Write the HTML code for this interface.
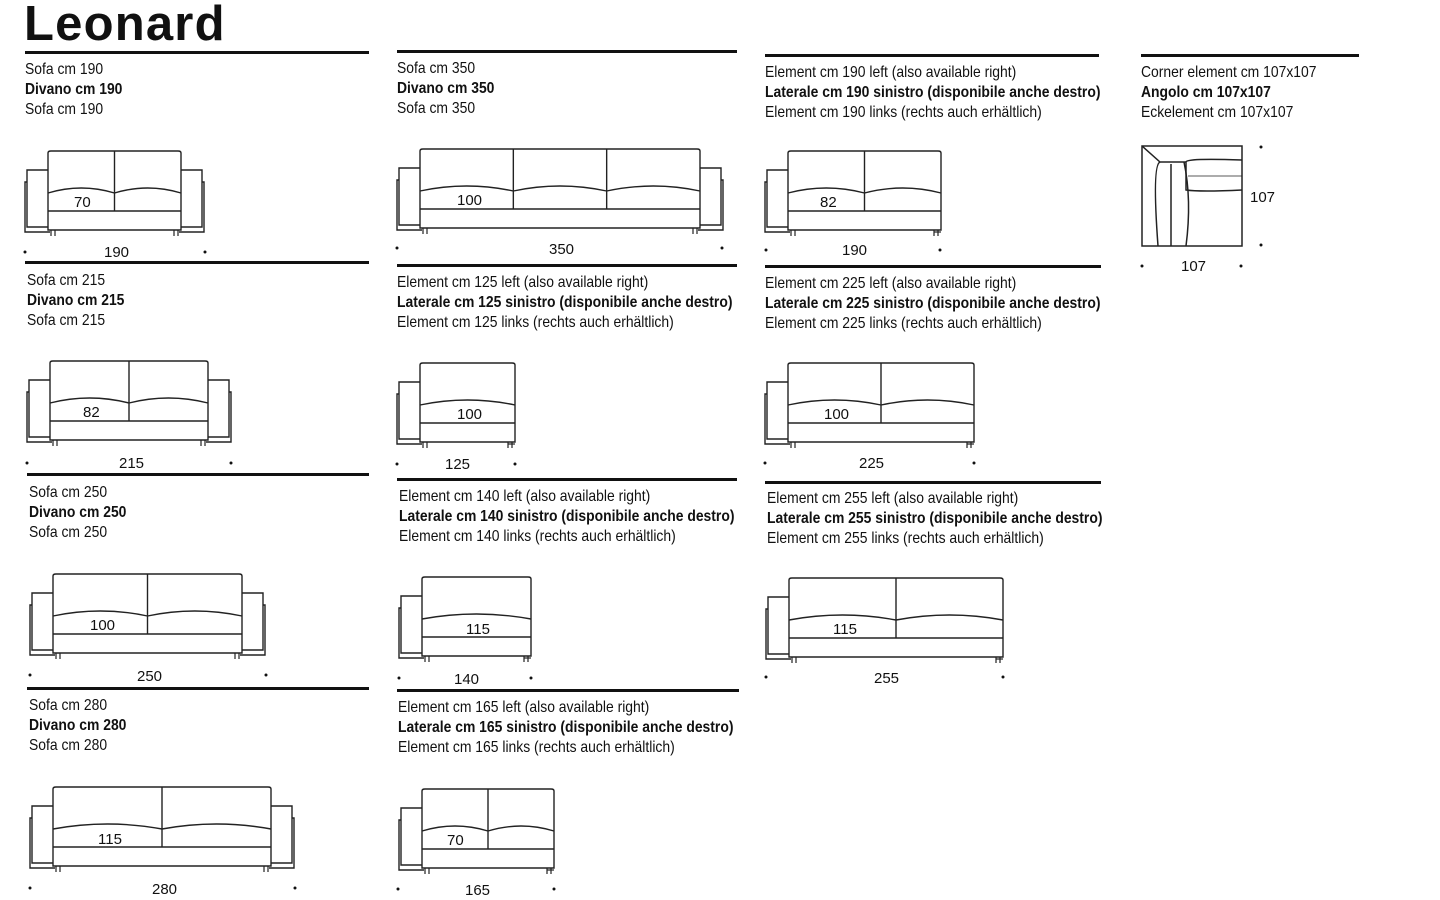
<!DOCTYPE html>
<html><head><meta charset="utf-8"><style>
html,body{margin:0;padding:0;background:#fff;width:1440px;height:900px;overflow:hidden}
svg{display:block}
text{font-family:"Liberation Sans Narrow","Liberation Sans",sans-serif;fill:#111}
.t{font-size:16px}
.b{font-weight:bold}
.d{font-size:15px}
</style></head><body>
<svg id="s" width="1440" height="900" viewBox="0 0 1440 900">
<text x="24" y="40" style="font-family:'Liberation Sans',sans-serif;font-size:49px;font-weight:bold;letter-spacing:1.2px">Leonard</text>
<g fill="#111">
<rect x="25" y="51" width="344" height="3"/>
<rect x="397" y="50" width="340" height="3"/>
<rect x="765" y="54" width="334" height="3"/>
<rect x="1141" y="54" width="218" height="3"/>
<rect x="25" y="261" width="344" height="3"/>
<rect x="397" y="264" width="340" height="3"/>
<rect x="765" y="265" width="336" height="3"/>
<rect x="27" y="473" width="342" height="3"/>
<rect x="397" y="478" width="340" height="3"/>
<rect x="765" y="481" width="336" height="3"/>
<rect x="27" y="687" width="342" height="3"/>
<rect x="397" y="689" width="342" height="3"/>
</g>
<g transform="translate(25,74) scale(0.87,1)" class="t"><text>Sofa cm 190</text><text y="20" class="b">Divano cm 190</text><text y="40">Sofa cm 190</text></g>
<g transform="translate(397,73) scale(0.87,1)" class="t"><text>Sofa cm 350</text><text y="20" class="b">Divano cm 350</text><text y="40">Sofa cm 350</text></g>
<g transform="translate(765,77) scale(0.87,1)" class="t"><text>Element cm 190 left (also available right)</text><text y="20" class="b">Laterale cm 190 sinistro (disponibile anche destro)</text><text y="40">Element cm 190 links (rechts auch erhältlich)</text></g>
<g transform="translate(1141,77) scale(0.87,1)" class="t"><text>Corner element cm 107x107</text><text y="20" class="b">Angolo cm 107x107</text><text y="40">Eckelement cm 107x107</text></g>
<g transform="translate(27,285) scale(0.87,1)" class="t"><text>Sofa cm 215</text><text y="20" class="b">Divano cm 215</text><text y="40">Sofa cm 215</text></g>
<g transform="translate(397,287) scale(0.87,1)" class="t"><text>Element cm 125 left (also available right)</text><text y="20" class="b">Laterale cm 125 sinistro (disponibile anche destro)</text><text y="40">Element cm 125 links (rechts auch erhältlich)</text></g>
<g transform="translate(765,288) scale(0.87,1)" class="t"><text>Element cm 225 left (also available right)</text><text y="20" class="b">Laterale cm 225 sinistro (disponibile anche destro)</text><text y="40">Element cm 225 links (rechts auch erhältlich)</text></g>
<g transform="translate(29,497) scale(0.87,1)" class="t"><text>Sofa cm 250</text><text y="20" class="b">Divano cm 250</text><text y="40">Sofa cm 250</text></g>
<g transform="translate(399,501) scale(0.87,1)" class="t"><text>Element cm 140 left (also available right)</text><text y="20" class="b">Laterale cm 140 sinistro (disponibile anche destro)</text><text y="40">Element cm 140 links (rechts auch erhältlich)</text></g>
<g transform="translate(767,503) scale(0.87,1)" class="t"><text>Element cm 255 left (also available right)</text><text y="20" class="b">Laterale cm 255 sinistro (disponibile anche destro)</text><text y="40">Element cm 255 links (rechts auch erhältlich)</text></g>
<g transform="translate(29,710) scale(0.87,1)" class="t"><text>Sofa cm 280</text><text y="20" class="b">Divano cm 280</text><text y="40">Sofa cm 280</text></g>
<g transform="translate(398,712) scale(0.87,1)" class="t"><text>Element cm 165 left (also available right)</text><text y="20" class="b">Laterale cm 165 sinistro (disponibile anche destro)</text><text y="40">Element cm 165 links (rechts auch erhältlich)</text></g>
<g fill="none" stroke="#222" stroke-width="1.5">
<rect x="1142" y="146" width="100" height="100"/>
<path d="M1142 146 L1160 162 L1186 162"/>
<path d="M1160 162 Q1152 165 1158 246 M1184 162 Q1192 200 1186 246 M1171 164 L1171 246"/>
<path d="M1186 162 Q1186 158 1242 160 M1186 162 L1186 190 Q1200 192 1242 190"/>
<path d="M1188 176 L1242 176" stroke-width="0.7"/>
</g>
<g class="d"><text x="1250" y="202">107</text><text x="1181" y="271">107</text></g>
<g fill="#111"><circle cx="1261" cy="147" r="1.5"/><circle cx="1261" cy="245" r="1.5"/><circle cx="1142" cy="266" r="1.5"/><circle cx="1241" cy="266" r="1.5"/></g>
<g id="sofas" fill="none" stroke="#222" stroke-width="1.4"></g>
<g class="d">
<text x="74" y="207">70</text><text x="104" y="257">190</text>
<text x="457" y="205">100</text><text x="549" y="254">350</text>
<text x="820" y="207">82</text><text x="842" y="255">190</text>
<text x="83" y="417">82</text><text x="119" y="468">215</text>
<text x="457" y="419">100</text><text x="445" y="469">125</text>
<text x="824" y="419">100</text><text x="859" y="468">225</text>
<text x="90" y="630">100</text><text x="137" y="681">250</text>
<text x="466" y="634">115</text><text x="454" y="684">140</text>
<text x="833" y="634">115</text><text x="874" y="683">255</text>
<text x="98" y="844">115</text><text x="152" y="894">280</text>
<text x="447" y="845">70</text><text x="465" y="895">165</text>
</g>
</svg>
<script>
var g=document.getElementById('sofas');var NS='http://www.w3.org/2000/svg';
function p(d,w){var e=document.createElementNS(NS,'path');e.setAttribute('d',d);if(w)e.setAttribute('stroke-width',w);g.appendChild(e);}
function dot(x,y){var c=document.createElementNS(NS,'circle');c.setAttribute('cx',x);c.setAttribute('cy',y);c.setAttribute('r',1.5);c.setAttribute('fill','#111');c.setAttribute('stroke','none');g.appendChild(c);}
function sofa(x1,x2,y,n,la,ra,dy,d1,d2){
 var w=x2-x1;
 p('M'+x1+' '+(y+60)+' L'+x1+' '+(y+2)+' Q'+x1+' '+y+' '+(x1+3)+' '+y+' L'+(x2-3)+' '+y+' Q'+x2+' '+y+' '+x2+' '+(y+2)+' L'+x2+' '+(y+79)+' L'+x1+' '+(y+79)+' Z');
 p('M'+x1+' '+(y+60)+' L'+x2+' '+(y+60));
 var cw=w/n;
 for(var i=0;i<n;i++){var a=x1+i*cw,b=a+cw;p('M'+a+' '+(y+42)+' Q'+(a+cw/2)+' '+(y+32)+' '+b+' '+(y+42));if(i>0)p('M'+a+' '+y+' L'+a+' '+(y+60));}
 p('M'+(x1+3)+' '+(y+79)+' L'+(x1+3)+' '+(y+85)+' M'+(x1+7)+' '+(y+79)+' L'+(x1+7)+' '+(y+85),1.2);
 p('M'+(x2-3)+' '+(y+79)+' L'+(x2-3)+' '+(y+85)+' M'+(x2-7)+' '+(y+79)+' L'+(x2-7)+' '+(y+85),1.2);
 if(la){p('M'+x1+' '+(y+19)+' L'+(x1-21)+' '+(y+19)+' L'+(x1-21)+' '+(y+76)+' L'+x1+' '+(y+76));p('M'+(x1-21)+' '+(y+31)+' L'+(x1-23)+' '+(y+31)+' L'+(x1-23)+' '+(y+81)+' L'+(x1+2)+' '+(y+81));}
 if(ra){p('M'+x2+' '+(y+19)+' L'+(x2+21)+' '+(y+19)+' L'+(x2+21)+' '+(y+76)+' L'+x2+' '+(y+76));p('M'+(x2+21)+' '+(y+31)+' L'+(x2+23)+' '+(y+31)+' L'+(x2+23)+' '+(y+81)+' L'+(x2-2)+' '+(y+81));}
 else{p('M'+(x2-7)+' '+(y+81)+' L'+x2+' '+(y+81),1.2);}
 dot(d1,dy);dot(d2,dy);
}
sofa(48,181,151,2,1,1,252,25,205);
sofa(420,700,149,3,1,1,248,397,722);
sofa(788,941,151,2,1,0,250,766,940);
sofa(50,208,361,2,1,1,463,27,231);
sofa(420,515,363,1,1,0,464,397,515);
sofa(788,974,363,2,1,0,463,765,974);
sofa(53,242,574,2,1,1,675,30,266);
sofa(422,531,577,1,1,0,678,399,531);
sofa(789,1003,578,2,1,0,677,766,1003);
sofa(53,271,787,2,1,1,888,30,295);
sofa(422,554,789,2,1,0,889,398,554);
</script>
</body></html>
